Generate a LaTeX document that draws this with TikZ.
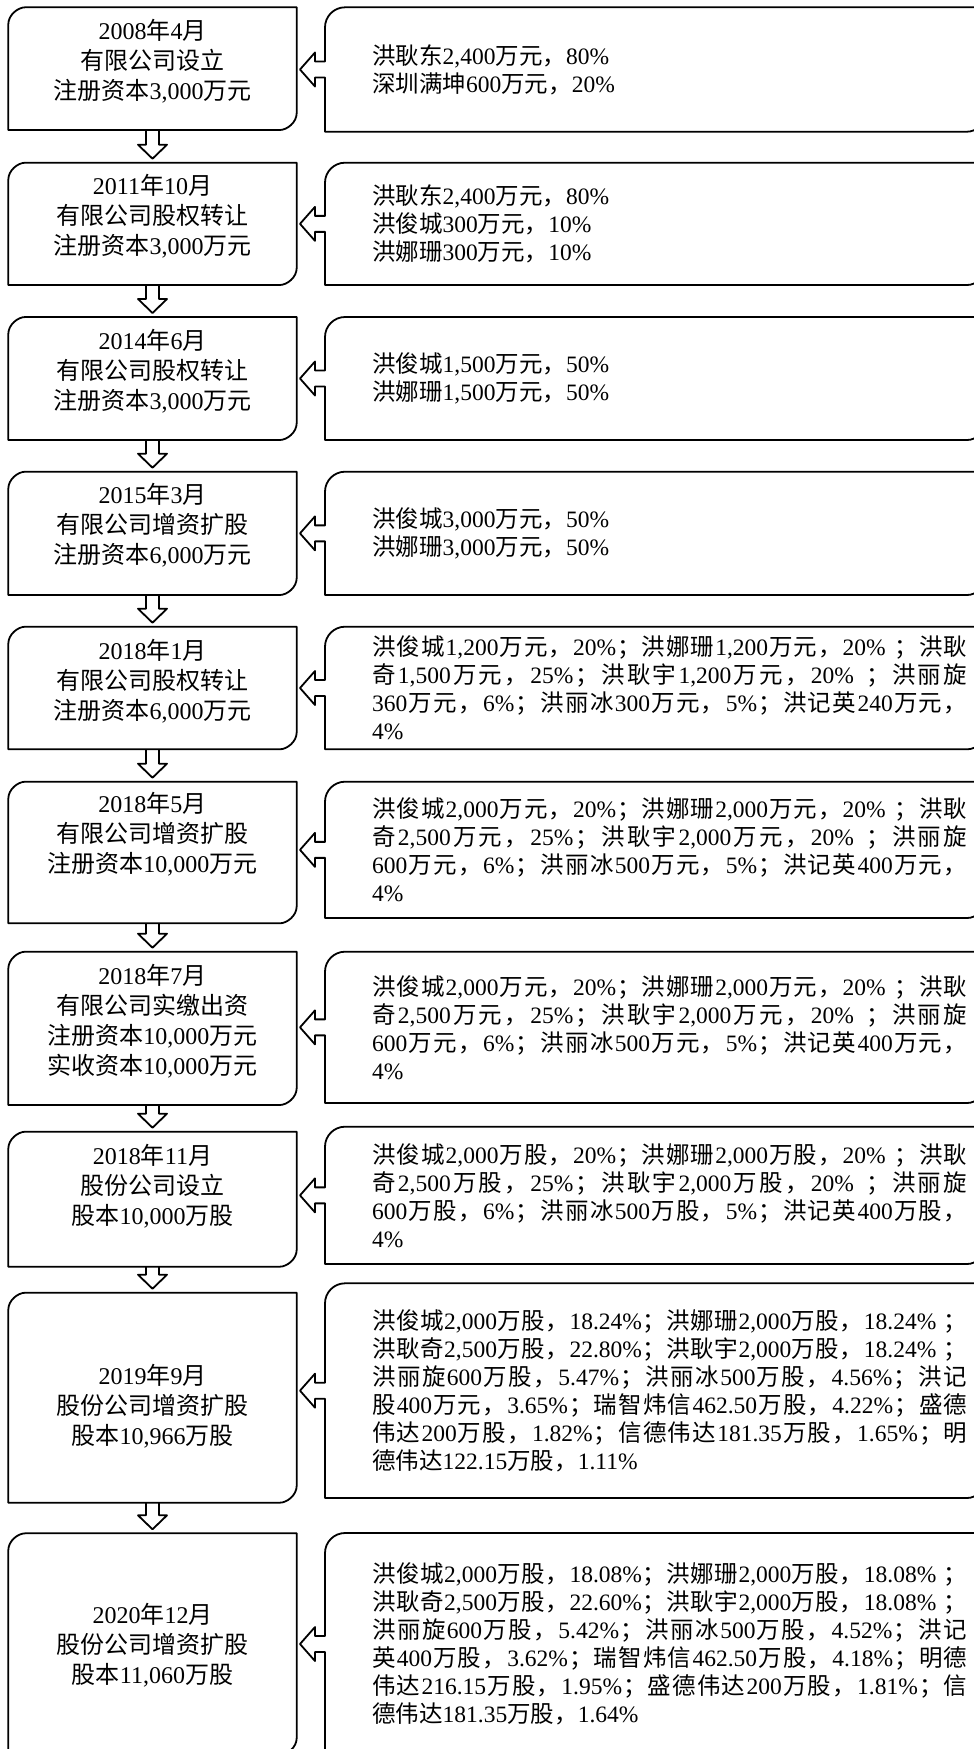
\documentclass[tikz,border=0pt]{standalone}
\usepackage{fontspec}
\setmainfont{Liberation Serif}
\newfontfamily\latf{Liberation Serif}
\newfontfamily\cjkf{Noto Sans CJK SC}
\newcommand\jgl{\hskip0pt plus 1pt\relax}
\newcount\mycnt
\mycnt="4E00
\loop \XeTeXcharclass\mycnt=1 \advance\mycnt by 1 \ifnum\mycnt<"A000 \repeat
\XeTeXcharclass"FF0C=1
\XeTeXcharclass"FF1B=1
\XeTeXcharclass`\,=0
\XeTeXcharclass`\.=0
\XeTeXcharclass`\%=0
\XeTeXinterchartoks 0 1 = {\cjkf\jgl}
\XeTeXinterchartoks 1 0 = {\latf\jgl}
\XeTeXinterchartoks 1 1 = {\jgl}
\XeTeXinterchartoks 4095 1 = {\cjkf}
\XeTeXinterchartoks 4095 0 = {\latf}
\newcommand\lfont{\fontsize{24pt}{30pt}\selectfont\XeTeXinterchartokenstate=1\relax}
\newcommand\rfont{\fontsize{23.5pt}{28pt}\selectfont\XeTeXinterchartokenstate=1\relax}
\newcommand\jl[1]{\makebox[595pt][s]{#1}}
\tikzset{
  bx/.style={line width=1.8pt, line join=round, draw=black},
  ltext/.style={align=center, inner sep=0pt, font=\lfont},
  rtext/.style={anchor=west, align=left, inner sep=0pt, font=\rfont},
}
% left box: name, top, bottom, text centre y, text
\newcommand\LBox[5]{%
  \draw[bx] (8.3,#2+17) .. controls (8.3,#2+7.6) and (17.9,#2) .. (25.3,#2)
    -- (296.7,#2) -- (296.7,#3-17) .. controls (296.7,#3-7.6) and (287.1,#3) .. (279.7,#3)
    -- (8.3,#3) -- cycle;
  \node[ltext] (#1) at (152.5,#4) {#5};
}
% right callout box: name, top, bottom, text
\newcommand\RBox[4]{%
  \pgfmathsetmacro\ym{(#2+#3)/2}
  \draw[bx] (325,\ym-8) -- (315,\ym-8) -- (315,\ym-17) -- (300,\ym) -- (315,\ym+17)
    -- (315,\ym+8) -- (325,\ym+8) -- (325,#3) -- (967,#3)
    .. controls (976.4,#3) and (984,#3-7.6) .. (984,#3-17) -- (984,#2) -- (345,#2)
    .. controls (334,#2) and (325,#2+9) .. (325,#2+20) -- cycle;
  \node[rtext] (#1) at (372,\ym) {#4};
}
% down block arrow: from bottom y to next top y
\newcommand\DArrow[2]{%
  \draw[bx] (146,#1) -- (146,#2-18) -- (138,#2-18) -- (152.5,#2-4) -- (167,#2-18)
    -- (159,#2-18) -- (159,#1);
}
\begin{document}
\begin{tikzpicture}[x=1pt,y=-1pt]
\useasboundingbox[fill=white] (0,0) rectangle (974,1749);

\LBox{L1}{7.3}{130}{61}{2008年4月\\有限公司设立\\注册资本3,000万元}
\LBox{L2}{162.7}{285}{216.5}{2011年10月\\有限公司股权转让\\注册资本3,000万元}
\LBox{L3}{317}{440}{371}{2014年6月\\有限公司股权转让\\注册资本3,000万元}
\LBox{L4}{471.7}{595}{525}{2015年3月\\有限公司增资扩股\\注册资本6,000万元}
\LBox{L5}{626.7}{749.3}{681}{2018年1月\\有限公司股权转让\\注册资本6,000万元}
\LBox{L6}{781.7}{923.3}{834}{2018年5月\\有限公司增资扩股\\注册资本10,000万元}
\LBox{L7}{951.7}{1105}{1021}{2018年7月\\有限公司实缴出资\\注册资本10,000万元\\实收资本10,000万元}
\LBox{L8}{1131.7}{1266.7}{1186}{2018年11月\\股份公司设立\\股本10,000万股}
\LBox{L9}{1292.7}{1502.7}{1406}{2019年9月\\股份公司增资扩股\\股本10,966万股}
\LBox{L10}{1533.3}{1755}{1645}{2020年12月\\股份公司增资扩股\\股本11,060万股}

\RBox{R1}{7.3}{131.7}{洪耿东2,400万元，80\%\\深圳满坤600万元，20\%}
\RBox{R2}{162.7}{285}{洪耿东2,400万元，80\%\\洪俊城300万元，10\%\\洪娜珊300万元，10\%}
\RBox{R3}{317}{440}{洪俊城1,500万元，50\%\\洪娜珊1,500万元，50\%}
\RBox{R4}{471.7}{595}{洪俊城3,000万元，50\%\\洪娜珊3,000万元，50\%}
\RBox{R5}{626.7}{749.3}{\jl{洪俊城1,200万元，20\%；洪娜珊1,200万元，20\% ；洪耿}\\
\jl{奇1,500万元，25\%；洪耿宇1,200万元，20\% ；洪丽旋}\\
\jl{360万元，6\%；洪丽冰300万元，5\%；洪记英240万元，}\\
4\%}
\RBox{R6}{781.7}{918}{\jl{洪俊城2,000万元，20\%；洪娜珊2,000万元，20\% ；洪耿}\\
\jl{奇2,500万元，25\%；洪耿宇2,000万元，20\% ；洪丽旋}\\
\jl{600万元，6\%；洪丽冰500万元，5\%；洪记英400万元，}\\
4\%}
\RBox{R7}{951.7}{1103}{\jl{洪俊城2,000万元，20\%；洪娜珊2,000万元，20\% ；洪耿}\\
\jl{奇2,500万元，25\%；洪耿宇2,000万元，20\% ；洪丽旋}\\
\jl{600万元，6\%；洪丽冰500万元，5\%；洪记英400万元，}\\
4\%}
\RBox{R8}{1126.7}{1264}{\jl{洪俊城2,000万股，20\%；洪娜珊2,000万股，20\% ；洪耿}\\
\jl{奇2,500万股，25\%；洪耿宇2,000万股，20\% ；洪丽旋}\\
\jl{600万股，6\%；洪丽冰500万股，5\%；洪记英400万股，}\\
4\%}
\RBox{R9}{1283.3}{1498}{\jl{洪俊城2,000万股，18.24\%；洪娜珊2,000万股，18.24\% ；}\\
\jl{洪耿奇2,500万股，22.80\%；洪耿宇2,000万股，18.24\% ；}\\
\jl{洪丽旋600万股，5.47\%；洪丽冰500万股，4.56\%；洪记}\\
\jl{股400万元，3.65\%；瑞智炜信462.50万股，4.22\%；盛德}\\
\jl{伟达200万股，1.82\%；信德伟达181.35万股，1.65\%；明}\\
德伟达122.15万股，1.11\%}
\RBox{R10}{1533}{1755}{\jl{洪俊城2,000万股，18.08\%；洪娜珊2,000万股，18.08\% ；}\\
\jl{洪耿奇2,500万股，22.60\%；洪耿宇2,000万股，18.08\% ；}\\
\jl{洪丽旋600万股，5.42\%；洪丽冰500万股，4.52\%；洪记}\\
\jl{英400万股，3.62\%；瑞智炜信462.50万股，4.18\%；明德}\\
\jl{伟达216.15万股，1.95\%；盛德伟达200万股，1.81\%；信}\\
德伟达181.35万股，1.64\%}

\DArrow{130}{162.7}
\DArrow{285}{317}
\DArrow{440}{471.7}
\DArrow{595}{626.7}
\DArrow{749.3}{781.7}
\DArrow{923.3}{951.7}
\DArrow{1105}{1131.7}
\DArrow{1266.7}{1292.7}
\DArrow{1502.7}{1533.3}
\end{tikzpicture}
\end{document}
